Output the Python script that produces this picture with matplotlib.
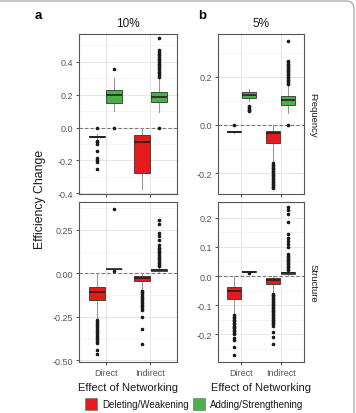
import matplotlib
matplotlib.use("Agg")
import matplotlib.pyplot as plt
from matplotlib.patches import FancyBboxPatch, Rectangle

plt.rcParams["font.family"] = ["Liberation Sans", "DejaVu Sans"]

# order of boxes in every panel: Direct-del, Direct-add, Indirect-del, Indirect-add
groups = ["Direct", "Indirect"]
treatments = ["Deleting/Weakening", "Adding/Strengthening"]
colors = ["#E41A1C", "#4DAF4A"]

# ---- 10% / Frequency ----
freq10_med = [-0.055, 0.200, -0.088, 0.188]
freq10_q1 = [-0.060, 0.152, -0.279, 0.156]
freq10_q3 = [-0.050, 0.227, -0.046, 0.219]
freq10_lo = [-0.070, 0.100, -0.373, 0.092]
freq10_hi = [-0.040, 0.304, 0.000, 0.304]
freq10_out = [
    [0.0, -0.08, -0.09, -0.10, -0.145, -0.185, -0.20, -0.21, -0.255],
    [0.358, 0.0],
    [],
    [0.0, 0.31, 0.32, 0.33, 0.34, 0.35, 0.36, 0.37, 0.38, 0.39, 0.40,
     0.41, 0.42, 0.43, 0.44, 0.45, 0.46, 0.47, 0.544],
]

# ---- 10% / Structure ----
struct10_med = [-0.106, 0.025, -0.028, 0.019]
struct10_q1 = [-0.152, 0.022, -0.044, 0.015]
struct10_q3 = [-0.076, 0.027, -0.015, 0.022]
struct10_lo = [-0.260, 0.020, -0.090, 0.005]
struct10_hi = [0.000, 0.030, 0.000, 0.035]
struct10_out = [
    [-0.27, -0.28, -0.29, -0.30, -0.31, -0.32, -0.33, -0.34, -0.35, -0.36,
     -0.37, -0.38, -0.39, -0.40, -0.44, -0.466],
    [0.015, 0.367],
    [-0.10, -0.11, -0.12, -0.13, -0.14, -0.15, -0.16, -0.17, -0.18, -0.19,
     -0.20, -0.21, -0.25, -0.318, -0.407],
    [0.04, 0.05, 0.06, 0.07, 0.08, 0.09, 0.10, 0.11, 0.12, 0.13, 0.14,
     0.145, 0.165, 0.193, 0.216, 0.231, 0.284, 0.307],
]

# ---- 5% / Frequency ----
freq5_med = [-0.029, 0.124, -0.032, 0.102]
freq5_q1 = [-0.031, 0.112, -0.077, 0.081]
freq5_q3 = [-0.027, 0.138, -0.025, 0.120]
freq5_lo = [-0.033, 0.100, -0.156, 0.051]
freq5_hi = [-0.025, 0.150, 0.000, 0.168]
freq5_out = [
    [0.0],
    [0.056, 0.062, 0.068, 0.074, 0.080],
    [-0.160, -0.166, -0.172, -0.178, -0.184, -0.190, -0.196, -0.202, -0.208,
     -0.214, -0.220, -0.226, -0.232, -0.238, -0.244, -0.250, -0.256, -0.262],
    [0.0, 0.170, 0.176, 0.182, 0.188, 0.194, 0.200, 0.206, 0.212, 0.218,
     0.224, 0.230, 0.236, 0.242, 0.248, 0.254, 0.260, 0.265, 0.348],
]

# ---- 5% / Structure ----
struct5_med = [-0.053, 0.015, -0.015, 0.011]
struct5_q1 = [-0.078, 0.013, -0.026, 0.008]
struct5_q3 = [-0.038, 0.017, -0.006, 0.014]
struct5_lo = [-0.133, 0.011, -0.055, 0.002]
struct5_hi = [0.000, 0.018, 0.000, 0.020]
struct5_out = [
    [-0.135, -0.140, -0.145, -0.150, -0.155, -0.160, -0.165, -0.170, -0.175,
     -0.180, -0.185, -0.190, -0.195, -0.200, -0.213, -0.221, -0.243, -0.270],
    [0.011],
    [-0.060, -0.065, -0.070, -0.075, -0.080, -0.085, -0.090, -0.095, -0.100,
     -0.105, -0.110, -0.115, -0.120, -0.125, -0.130, -0.135, -0.140, -0.145,
     -0.150, -0.155, -0.160, -0.165, -0.170, -0.192, -0.209, -0.234],
    [0.020, 0.025, 0.030, 0.035, 0.040, 0.045, 0.050, 0.055, 0.060, 0.065,
     0.070, 0.077, 0.100, 0.110, 0.120, 0.130, 0.145, 0.187, 0.214, 0.225,
     0.237],
]

W, H = 356, 414
fig = plt.figure(figsize=(W / 100, H / 100), dpi=100)


def fx(px):
    return px / W


def fy(py):
    return 1 - py / H


def make_stats(med, q1, q3, lo, hi, out):
    return [dict(med=m, q1=a, q3=b, whislo=l, whishi=h, fliers=f)
            for m, a, b, l, h, f in zip(med, q1, q3, lo, hi, out)]


def draw_panel(rect, stats, ylim, ticks, ticklabels, minor, show_x):
    ax = fig.add_axes(rect)
    positions = [1 - 0.1875, 1 + 0.1875, 2 - 0.1875, 2 + 0.1875]
    for t in minor:
        ax.axhline(t, color="#F2F2F2", lw=0.5, zorder=0)
    for t in ticks:
        ax.axhline(t, color="#E6E6E6", lw=0.7, zorder=0)
    for x in [1, 2]:
        ax.axvline(x, color="#E6E6E6", lw=0.7, zorder=0)
    ax.axhline(0, color="#777777", lw=0.8, ls=(0, (3, 2)), zorder=1)
    bp = ax.bxp(stats, positions=positions, widths=0.36, patch_artist=True,
                showcaps=False, manage_ticks=False,
                boxprops=dict(edgecolor="#333333", linewidth=0.6),
                medianprops=dict(color="#1a1a1a", linewidth=1.1),
                whiskerprops=dict(color="#999999", linewidth=0.8),
                flierprops=dict(marker="o", markersize=1.6,
                                markerfacecolor="#1a1a1a",
                                markeredgecolor="#1a1a1a"))
    for i, box in enumerate(bp["boxes"]):
        box.set_facecolor(colors[i % 2])
        box.set_zorder(3)
    for m in bp["medians"]:
        m.set_zorder(4)
    ax.set_xlim(0.4, 2.6)
    ax.set_ylim(*ylim)
    ax.set_yticks(ticks)
    ax.set_yticklabels(ticklabels)
    ax.set_xticks([1, 2])
    if show_x:
        ax.set_xticklabels(groups)
    else:
        ax.set_xticklabels([])
        ax.tick_params(axis="x", length=0)
    ax.tick_params(labelsize=6.5, colors="#333333", labelcolor="#555555",
                   length=2.5, width=0.6, pad=1.5)
    for s in ax.spines.values():
        s.set_color("#555555")
        s.set_linewidth(0.8)
    return ax


top_h = 160 / H
# panel a
draw_panel([fx(79), fy(195), fx(98), top_h],
           make_stats(freq10_med, freq10_q1, freq10_q3, freq10_lo, freq10_hi, freq10_out),
           (-0.405, 0.57), [-0.4, -0.2, 0.0, 0.2, 0.4],
           ["-0.4", "-0.2", "0.0", "0.2", "0.4"], [-0.3, -0.1, 0.1, 0.3, 0.5], False)
draw_panel([fx(79), fy(363), fx(98), top_h],
           make_stats(struct10_med, struct10_q1, struct10_q3, struct10_lo, struct10_hi, struct10_out),
           (-0.51, 0.41), [-0.5, -0.25, 0.0, 0.25],
           ["-0.50", "-0.25", "0.00", "0.25"], [-0.375, -0.125, 0.125, 0.375], True)
# panel b
draw_panel([fx(218), fy(195), fx(86), top_h],
           make_stats(freq5_med, freq5_q1, freq5_q3, freq5_lo, freq5_hi, freq5_out),
           (-0.287, 0.378), [-0.2, 0.0, 0.2],
           ["-0.2", "0.0", "0.2"], [-0.1, 0.1, 0.3], False)
draw_panel([fx(218), fy(363), fx(86), top_h],
           make_stats(struct5_med, struct5_q1, struct5_q3, struct5_lo, struct5_hi, struct5_out),
           (-0.295, 0.254), [-0.2, -0.1, 0.0, 0.1, 0.2],
           ["-0.2", "-0.1", "0.0", "0.1", "0.2"], [-0.25, -0.15, -0.05, 0.05, 0.15, 0.25], True)

# labels
fig.text(fx(38), fy(16), "a", fontsize=9.5, fontweight="bold", ha="center", va="center")
fig.text(fx(202), fy(16), "b", fontsize=9.5, fontweight="bold", ha="center", va="center")
fig.text(fx(128), fy(24), "10%", fontsize=8.5, ha="center", va="center", color="#1a1a1a")
fig.text(fx(261), fy(24), "5%", fontsize=8.5, ha="center", va="center", color="#1a1a1a")
fig.text(fx(40), fy(199), "Efficiency Change", fontsize=8.8, rotation=90,
         ha="center", va="center", color="#1a1a1a")
fig.text(fx(313), fy(115), "Frequency", fontsize=6.8, rotation=-90,
         ha="center", va="center", color="#1a1a1a")
fig.text(fx(313), fy(283), "Structure", fontsize=6.8, rotation=-90,
         ha="center", va="center", color="#1a1a1a")
fig.text(fx(128), fy(388), "Effect of Networking", fontsize=8, ha="center",
         va="center", color="#1a1a1a")
fig.text(fx(261), fy(388), "Effect of Networking", fontsize=8, ha="center",
         va="center", color="#1a1a1a")

# legend
leg_x = [85, 193]
for x0, c, lab in zip(leg_x, colors, treatments):
    fig.patches.append(Rectangle((fx(x0), fy(411)), fx(12), 12 / H, facecolor=c,
                                 edgecolor="#777777", lw=0.5, transform=fig.transFigure))
    fig.text(fx(x0 + 17), fy(405), lab, fontsize=7, ha="left", va="center",
             color="#1a1a1a")

# outer frame
fig.patches.append(FancyBboxPatch((-0.05, -0.05), fx(354) + 0.05, fy(2) + 0.05,
                                  boxstyle="round,pad=0,rounding_size=0.02",
                                  facecolor="none", edgecolor="#9a9a9a", lw=0.8,
                                  transform=fig.transFigure))

fig.savefig("out.png", dpi=100)
